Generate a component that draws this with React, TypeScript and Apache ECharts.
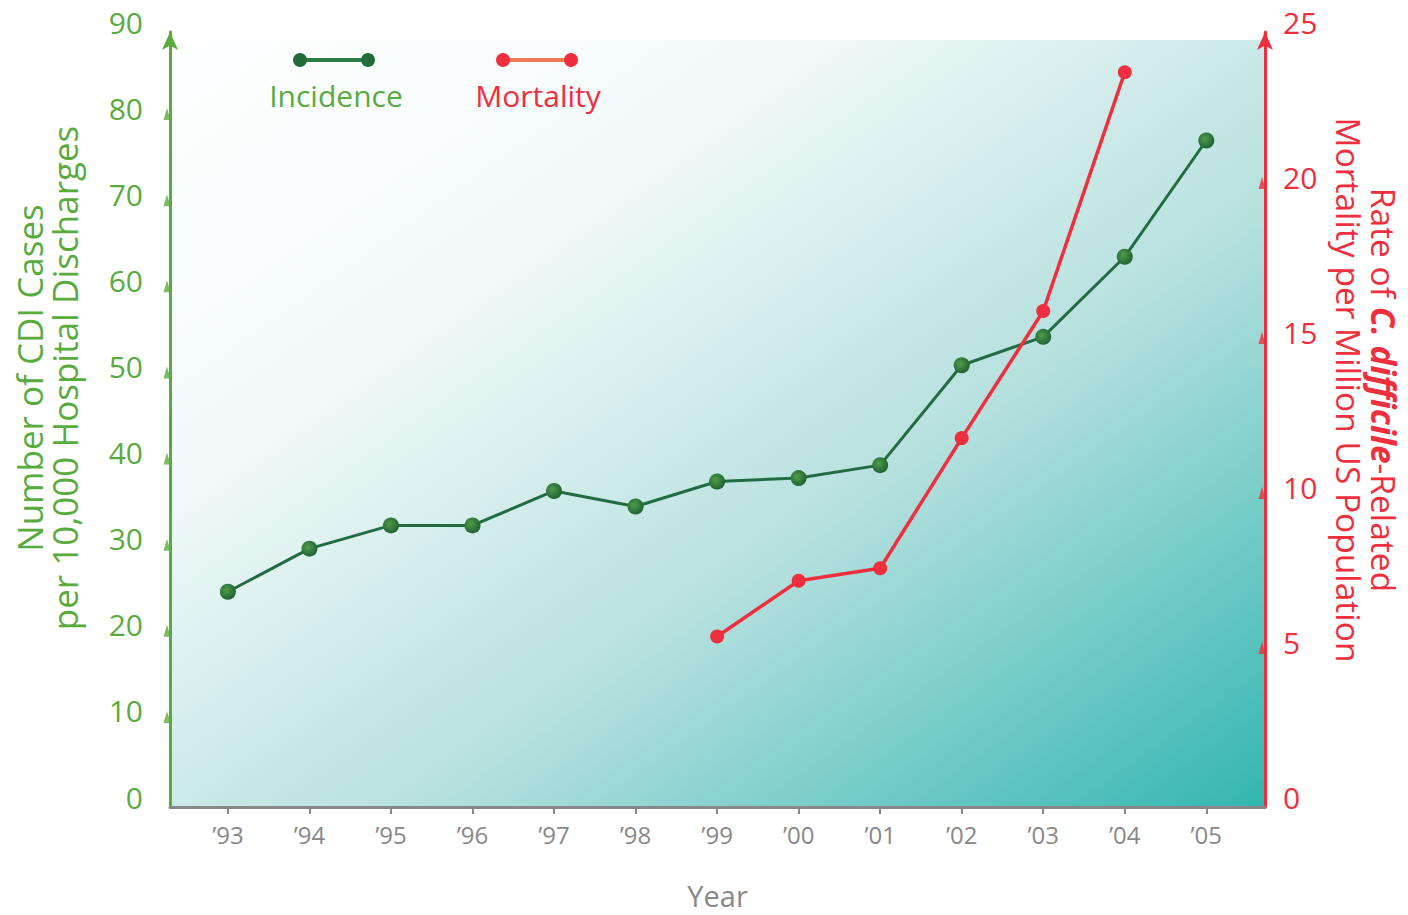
import React, { useEffect, useRef } from "react";
import * as echarts from "echarts";

const years = [1993, 1994, 1995, 1996, 1997, 1998, 1999, 2000, 2001, 2002, 2003, 2004, 2005];
const xLabels = ["’93", "’94", "’95", "’96", "’97", "’98", "’99", "’00", "’01", "’02", "’03", "’04", "’05"];
const incidence = [25, 30, 32.7, 32.7, 36.7, 34.9, 37.8, 38.2, 39.7, 51.3, 54.6, 63.9, 77.4];
const mortality = [null, null, null, null, null, null, 5.5, 7.3, 7.7, 11.9, 16.0, 23.7, null];
const leftTicks = [10, 20, 30, 40, 50, 60, 70, 80];
const rightTicks = [5, 10, 15, 20];

const GREEN = "#5aab3e";
const RED = "#ef2f3d";
const GRAY = "#888888";
const FONT = "'Open Sans', Lato, sans-serif";

export default function App() {
  const ref = useRef<HTMLDivElement>(null);
  useEffect(() => {
    if (!ref.current) return;
    const chart = echarts.init(ref.current, null, { renderer: "svg" });
    const incData = years.map((y, i) => [y, incidence[i]]);
    const morData = years
      .map((y, i) => [y, mortality[i]])
      .filter((d) => d[1] !== null);
    const greenDot = new echarts.graphic.RadialGradient(0.4, 0.4, 0.7, [
      { offset: 0, color: "#4f9d4a" },
      { offset: 1, color: "#1a5a30" },
    ]);
    chart.setOption({
      animation: false,
      textStyle: { fontFamily: FONT },
      grid: {
        left: 170,
        right: 143,
        top: 32,
        bottom: 107,
        show: true,
        borderWidth: 0,
        backgroundColor: new echarts.graphic.LinearGradient(0, 0, 1, 1, [
          { offset: 0, color: "#ffffff" },
          { offset: 0.3, color: "#f2f9f9" },
          { offset: 0.62, color: "#b4e0de" },
          { offset: 1, color: "#33b6b0" },
        ]),
      },
      xAxis: [
        {
          type: "value",
          min: 1992.29,
          max: 2005.72,
          z: 3,
          name: "Year",
          nameLocation: "middle",
          nameGap: 74,
          nameTextStyle: { color: GRAY, fontSize: 29, fontFamily: FONT },
          splitLine: { show: false },
          axisLine: { lineStyle: { color: GRAY, width: 3 } },
          axisTick: { customValues: years, length: 7, lineStyle: { color: GRAY, width: 2 } },
          axisLabel: {
            customValues: years,
            formatter: (v: number) => xLabels[years.indexOf(v)],
            color: GRAY,
            fontSize: 24,
            fontFamily: FONT,
            margin: 15,
          },
        },
        { type: "value", min: 0, max: 1, show: false },
      ],
      yAxis: [
        {
          type: "value",
          min: 0,
          max: 90,
          interval: 10,
          position: "left",
          z: 3,
          splitLine: { show: false },
          axisLine: {
            show: true,
            symbol: ["none", "arrow"],
            symbolSize: [12, 18],
            lineStyle: { color: GREEN, width: 3 },
          },
          axisTick: { show: false },
          axisLabel: {
            color: GREEN,
            fontSize: 30,
            fontFamily: FONT,
            margin: 27,
            verticalAlign: "bottom",
            lineHeight: 20,
          },
        },
        {
          type: "value",
          min: 0,
          max: 25,
          interval: 5,
          position: "right",
          z: 3,
          splitLine: { show: false },
          axisLine: {
            show: true,
            symbol: ["none", "arrow"],
            symbolSize: [12, 18],
            lineStyle: { color: RED, width: 3 },
          },
          axisTick: { show: false },
          axisLabel: {
            color: RED,
            fontSize: 30,
            fontFamily: FONT,
            margin: 18,
            verticalAlign: "bottom",
            lineHeight: 20,
          },
        },
      ],
      series: [
        {
          type: "scatter",
          xAxisIndex: 1,
          yAxisIndex: 0,
          data: leftTicks.map((v) => [0, v]),
          symbol: "triangle",
          symbolSize: [7, 12],
          symbolOffset: [-3, -4],
          itemStyle: { color: GREEN },
          silent: true,
          z: 5,
        },
        {
          type: "scatter",
          xAxisIndex: 1,
          yAxisIndex: 1,
          data: rightTicks.map((v) => [1, v]),
          symbol: "triangle",
          symbolSize: [7, 12],
          symbolOffset: [-3, -4],
          itemStyle: { color: RED },
          silent: true,
          z: 5,
        },
        {
          name: "Incidence",
          type: "line",
          xAxisIndex: 0,
          yAxisIndex: 0,
          data: incData,
          symbol: "circle",
          symbolSize: 16,
          showAllSymbol: true,
          lineStyle: { color: "#216c43", width: 3 },
          itemStyle: { color: greenDot, borderWidth: 0 },
          z: 3,
        },
        {
          name: "Mortality",
          type: "line",
          xAxisIndex: 0,
          yAxisIndex: 1,
          data: morData,
          symbol: "circle",
          symbolSize: 14,
          showAllSymbol: true,
          lineStyle: { color: RED, width: 3.5 },
          itemStyle: { color: RED, borderWidth: 0 },
          z: 4,
        },
      ],
      graphic: [
        { type: "rect", z: 1, shape: { x: 172, y: 20, width: 1091, height: 20 }, style: { fill: "#ffffff" } },
        { type: "line", shape: { x1: 300, y1: 60, x2: 368, y2: 60 }, style: { stroke: "#2a7b46", lineWidth: 4 } },
        { type: "circle", shape: { cx: 300, cy: 60, r: 7 }, style: { fill: "#236b3a" } },
        { type: "circle", shape: { cx: 368, cy: 60, r: 7 }, style: { fill: "#236b3a" } },
        {
          type: "text",
          style: { x: 336, y: 95, text: "Incidence", fill: GREEN, fontSize: 30, fontFamily: FONT, align: "center", verticalAlign: "middle" },
        },
        { type: "line", shape: { x1: 503, y1: 60, x2: 571, y2: 60 }, style: { stroke: "#f07a55", lineWidth: 4 } },
        { type: "circle", shape: { cx: 503, cy: 60, r: 7 }, style: { fill: RED } },
        { type: "circle", shape: { cx: 571, cy: 60, r: 7 }, style: { fill: RED } },
        {
          type: "text",
          style: { x: 538, y: 95, text: "Mortality", fill: RED, fontSize: 30, fontFamily: FONT, align: "center", verticalAlign: "middle" },
        },
        {
          type: "text",
          x: 47,
          y: 378,
          rotation: Math.PI / 2,
          style: {
            x: 0,
            y: 0,
            text: "Number of CDI Cases\nper 10,000 Hospital Discharges",
            fill: GREEN,
            fontSize: 35,
            lineHeight: 35,
            fontFamily: FONT,
            align: "center",
            verticalAlign: "middle",
          },
        },
        {
          type: "text",
          x: 1366,
          y: 390,
          rotation: -Math.PI / 2,
          style: {
            x: 0,
            y: 0,
            text: "Rate of {b|C. difficile}-Related\nMortality per Million US Population",
            fill: RED,
            fontSize: 33.5,
            lineHeight: 35,
            fontFamily: FONT,
            align: "center",
            verticalAlign: "middle",
            rich: {
              b: { fontWeight: "bold", fontStyle: "italic", fill: RED, fontSize: 33.5, fontFamily: FONT, lineHeight: 35 },
            },
          },
        },
      ],
    });
    return () => chart.dispose();
  }, []);
  return <div ref={ref} style={{ position: "absolute", left: 0, top: 0, width: 1408, height: 915 }} />;
}
